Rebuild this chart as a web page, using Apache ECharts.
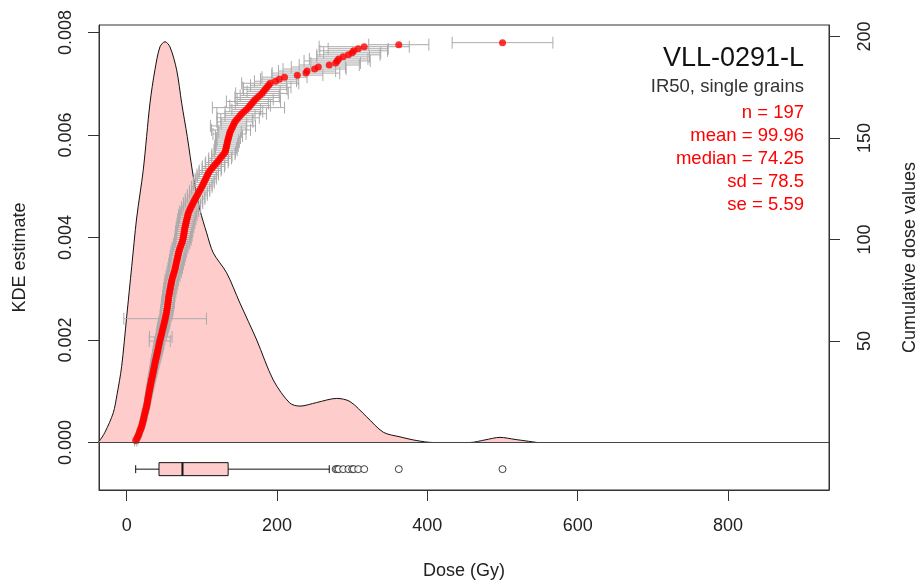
<!DOCTYPE html>
<html><head><meta charset="utf-8">
<script src="https://cdn.jsdelivr.net/npm/echarts@6/dist/echarts.min.js"></script>
<style>html,body{margin:0;padding:0;background:#fff}#c{width:920px;height:584px}</style>
</head><body><div id="c"></div><script>
// ---- data ----
const kdeX = [-40, -36.8, -28.9, -17.8, -12.9, -6.7, 0, 6.7, 13.3, 22.1, 31, 37.6, 44.3, 51, 57.6, 66.5, 73.2, 80.6, 88.6, 97.5, 106.4, 115.2, 133, 150.7, 173, 195, 217, 230.6, 252.8, 279.4, 297, 319.3, 341.4, 363.6, 385, 407.5, 456.7, 476.6, 496.6, 516.6, 546];
const kdeY = [0, 0.00002, 0.0002, 0.00058, 0.00093, 0.00148, 0.00245, 0.00343, 0.00438, 0.00532, 0.00662, 0.00727, 0.00772, 0.00782, 0.00772, 0.00727, 0.00662, 0.00597, 0.00519, 0.00454, 0.00409, 0.0037, 0.00331, 0.00272, 0.002, 0.00122, 0.00077, 0.00071, 0.00078, 0.00086, 0.0008, 0.0005, 0.0002, 0.00011, 0.00004, 0, 0, 0.00005, 0.0001, 0.00006, 0];

const doses = [
 12, 13.5, 15, 16, 17, 18, 19, 20,
 20.7, 21.4, 22, 22.7, 23.3, 24, 24.6, 25.3, 26, 26.6,
 27.1, 27.6, 28, 28.5, 29, 29.5, 30, 30.5, 31,
 31.5, 32, 32.6, 33.2, 33.8, 34.3, 34.9, 35.4, 36, 36.5, 37, 37.6,
 38.2, 38.8, 39.4, 40, 40.6, 41.2, 41.7, 42.3, 42.9, 43.4,
 44, 44.7, 45.4, 46.1, 46.8, 47.4, 48, 48.7,
 49.3, 50, 50.6, 51.2, 51.8, 52.4, 53,
 53.4, 53.8, 54.2, 54.6, 55, 55.3, 55.6, 56,
 56.5, 57, 57.5, 58, 58.5, 59, 59.5, 60,
 60.8, 61.6, 62.4, 63.2, 64,
 64.6, 65.2, 65.8, 66.4, 67, 67.6, 68.2, 68.8, 69.4, 70.2, 71,
 72, 73.1, 74.25,
 74.8, 75.3, 75.8, 76.2, 76.6, 77,
 77.6, 78.2, 78.8, 79.4, 80, 80.7, 81.3, 82,
 83.2, 84.4, 85.7, 87, 88.3, 89.6, 91,
 92.5, 94, 95.5, 97, 98.5, 100,
 101.3, 102.6, 103.9, 105.2, 106.5, 107.8, 109,
 111, 113.2, 115.4, 117.6, 120,
 122.2, 124.4, 126.6, 128.8, 131,
 131.6, 132.2, 132.8, 133.4, 134,
 134.7, 135.4, 136.1, 136.8, 137.5,
 138.8, 140.1, 141.4, 142.7, 144,
 146.2, 148.5, 150.8, 153,
 156, 159, 162,
 164.2, 166.5, 168.7, 171,
 174, 177, 180,
 182.2, 184.4, 186.6, 188.8, 191,
 198, 203, 210, 227, 238.5, 240, 250, 255, 269.5, 278, 280, 282, 288, 295, 300, 302, 308, 316, 362, 500
];

const doseErrors = [
 1.5, 2, 1.8, 2.2, 2, 2.5, 2.2, 2.4, 2.6, 2.3,
 2.8, 3, 2.5, 3.2, 2.9, 3.1, 3.4, 3, 3.3, 3.6,
 3.2, 3.5, 3.8, 3.3, 3.9, 4.1, 3.6, 4, 4.3, 3.9,
 4.4, 4.1, 4.6, 4.2, 4.8, 4.5, 5, 4.7, 5.2, 4.9,
 5.4, 5.1, 5.6, 5.3, 5.9, 5.5, 6.1, 5.8, 6.3, 14,
 6.2, 15, 6.6, 6.3, 7, 6.8, 7.2, 6.9, 7.4, 7.1,
 55, 7.3, 7.8, 7.5, 8, 7.7, 8.2, 7.9, 8.4, 8.1,
 6.6, 8.3, 6.8, 8.5, 7, 8.7, 7.2, 8.9, 7.4, 9.1,
 7.6, 9.3, 7.8, 9.5, 8, 9.7, 8.2, 9.9, 8.4, 10.1,
 8.6, 10.3, 8.8, 10.5, 9, 10.7, 9.2, 10.9, 9.4, 11.1,
 9.6, 11.3, 9.8, 11.5, 10, 11.7, 10.2, 11.9, 10.4, 12.1,
 10.6, 12.3, 10.8, 12.5, 11, 12.7, 11.2, 12.9, 11.4, 13.1,
 11.6, 13.3, 11.8, 13.5, 12, 13.7, 12.2, 13.9, 12.4, 14.1,
 12.6, 14.3, 12.8, 14.5, 13, 14.7, 13.2, 14.9, 13.4, 15.1,
 13.6, 15.3, 13.8, 15.5, 14, 15.7, 14.2, 15.9, 14.4, 16.1,
 18, 22, 15, 26, 19, 30, 17, 24, 21, 28,
 20, 33, 25, 19, 48, 27, 22, 36, 24, 30,
 26, 35, 22, 29, 32, 24, 38, 28, 25, 30,
 34, 45, 38, 42, 36, 40, 33, 44, 39, 35,
 42, 38, 45, 40, 60, 40, 67
];

const boxStats = [12, 43, 74.25, 135, 269.5]; // whisker low, Q1, median, Q3, whisker high
const xTicks = [0, 200, 400, 600, 800];
const kdeTicks = [0, 0.002, 0.004, 0.006, 0.008];
const cumTicks = [50, 100, 150, 200];
const statLines = ['n = 197', 'mean = 99.96', 'median = 74.25', 'sd = 78.5', 'se = 5.59'];
const titleText = 'VLL-0291-L';
const subtitleText = 'IR50, single grains';

// ---- chart ----
const FONT = '"Liberation Sans", Arial, sans-serif';
const TXT = '#222';
const chart = echarts.init(document.getElementById('c'));
const BOX_Y = -0.00052;
const outliers = doses.filter(v => v > boxStats[4]);

const option = {
  animation: false,
  grid: {left: 99, right: 91, top: 25, bottom: 94, outerBoundsMode: 'none', containLabel: false,
    show: true, borderColor: '#333', borderWidth: 1, backgroundColor: 'transparent'},
  xAxis: {
    type: 'value', min: -36.8, max: 934.3,
    axisLine: {show: true, onZero: false, lineStyle: {color: '#333'}},
    axisTick: {show: true, length: 11, customValues: xTicks, lineStyle: {color: '#333'}},
    axisLabel: {customValues: xTicks, margin: 27, fontSize: 18, color: TXT, fontFamily: FONT},
    splitLine: {show: false},
    name: 'Dose (Gy)', nameLocation: 'middle', nameGap: 72,
    nameTextStyle: {fontSize: 18, color: TXT, fontFamily: FONT}
  },
  yAxis: [{
    type: 'value', min: -0.000927, max: 0.008146, position: 'left',
    axisLine: {show: true, onZero: false, lineStyle: {color: '#333'}},
    axisTick: {show: true, length: 11, customValues: kdeTicks, lineStyle: {color: '#333'}},
    axisLabel: {customValues: kdeTicks, rotate: 90, margin: 24, fontSize: 18, color: TXT, fontFamily: FONT,
      formatter: v => v.toFixed(3)},
    splitLine: {show: false},
    name: 'KDE estimate', nameLocation: 'middle', nameGap: 70, nameRotate: 90,
    nameTextStyle: {fontSize: 18, color: TXT, fontFamily: FONT}
  }, {
    type: 'value', min: -23.4, max: 205.7, position: 'right',
    axisLine: {show: true, onZero: false, lineStyle: {color: '#333'}},
    axisTick: {show: true, length: 11, customValues: cumTicks, lineStyle: {color: '#333'}},
    axisLabel: {customValues: cumTicks, rotate: 90, margin: 27, fontSize: 18, color: TXT, fontFamily: FONT},
    splitLine: {show: false},
    name: 'Cumulative dose values', nameLocation: 'middle', nameGap: 72, nameRotate: 90,
    nameTextStyle: {fontSize: 18, color: TXT, fontFamily: FONT}
  }],
  series: [{
    type: 'line', xAxisIndex: 0, yAxisIndex: 0,
    data: kdeX.map((x, i) => [x, kdeY[i]]),
    smooth: 0.3, showSymbol: false, symbol: 'none',
    lineStyle: {color: '#111', width: 1},
    areaStyle: {color: '#FFCCCC', opacity: 1},
    z: 1, silent: true,
    markLine: {silent: true, symbol: 'none', label: {show: false},
      lineStyle: {color: '#444', width: 1, type: 'solid'}, data: [{yAxis: 0}]}
  }, {
    type: 'custom', xAxisIndex: 0, yAxisIndex: 1, z: 2, silent: true,
    data: doses.map((d, i) => [d, i + 1, doseErrors[i]]),
    encode: {x: 0, y: 1},
    renderItem: (params, api) => {
      const x = api.value(0), y = api.value(1), e = api.value(2);
      const lo = api.coord([x - e, y]);
      const hi = api.coord([x + e, y]);
      const h = 6;
      const st = {stroke: '#ABABAB', lineWidth: 1};
      return {type: 'group', children: [
        {type: 'line', shape: {x1: lo[0], y1: lo[1], x2: hi[0], y2: hi[1]}, style: st},
        {type: 'line', shape: {x1: lo[0], y1: lo[1] - h, x2: lo[0], y2: lo[1] + h}, style: st},
        {type: 'line', shape: {x1: hi[0], y1: hi[1] - h, x2: hi[0], y2: hi[1] + h}, style: st}
      ]};
    }
  }, {
    type: 'scatter', xAxisIndex: 0, yAxisIndex: 1, z: 3, silent: true,
    data: doses.map((d, i) => [d, i + 1]),
    symbolSize: 7, itemStyle: {color: '#FF0000'}
  }, {
    type: 'custom', xAxisIndex: 0, yAxisIndex: 0, z: 2, silent: true,
    data: [boxStats],
    encode: {x: [0, 1, 2, 3, 4]},
    renderItem: (params, api) => {
      const p = [0, 1, 2, 3, 4].map(k => api.coord([api.value(k), BOX_Y]));
      const cy = p[0][1];
      const hb = 6.5, hc = 4;
      const st = {stroke: '#111', lineWidth: 1};
      return {type: 'group', children: [
        {type: 'line', shape: {x1: p[0][0], y1: cy, x2: p[1][0], y2: cy}, style: st},
        {type: 'line', shape: {x1: p[3][0], y1: cy, x2: p[4][0], y2: cy}, style: st},
        {type: 'line', shape: {x1: p[0][0], y1: cy - hc, x2: p[0][0], y2: cy + hc}, style: st},
        {type: 'line', shape: {x1: p[4][0], y1: cy - hc, x2: p[4][0], y2: cy + hc}, style: st},
        {type: 'rect', shape: {x: p[1][0], y: cy - hb, width: p[3][0] - p[1][0], height: 2 * hb},
          style: {fill: '#FFCCCC', stroke: '#111', lineWidth: 1}},
        {type: 'line', shape: {x1: p[2][0], y1: cy - hb, x2: p[2][0], y2: cy + hb}, style: {stroke: '#111', lineWidth: 2}}
      ]};
    }
  }, {
    type: 'scatter', xAxisIndex: 0, yAxisIndex: 0, z: 3, silent: true,
    data: outliers.map(v => [v, BOX_Y]),
    symbol: 'circle', symbolSize: 7,
    itemStyle: {color: '#fff', borderColor: '#111', borderWidth: 1}
  }],
  graphic: [
    {type: 'text', x: 804, y: 59, style: {text: titleText, align: 'right', verticalAlign: 'middle', font: '27px ' + FONT, fill: '#111'}},
    {type: 'text', x: 804, y: 87, style: {text: subtitleText, align: 'right', verticalAlign: 'middle', font: '18.5px ' + FONT, fill: '#333'}}
  ].concat(statLines.map((t, i) => ({
    type: 'text', x: 804, y: 113 + i * 23,
    style: {text: t, align: 'right', verticalAlign: 'middle', font: '18.5px ' + FONT, fill: '#FF0000'}
  })))
};
chart.setOption(option);
</script></body></html>
